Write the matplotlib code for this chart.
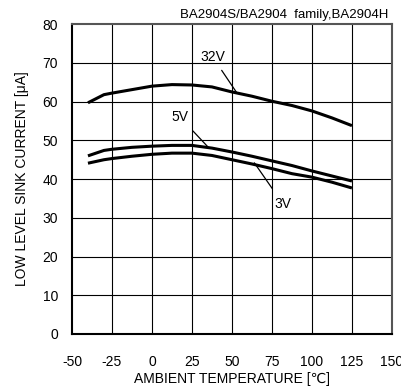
import matplotlib
matplotlib.use('Agg')
import matplotlib.pyplot as plt
import numpy as np

plt.rcParams['font.family'] = ['Liberation Sans', 'DejaVu Sans']
plt.rcParams['axes.unicode_minus'] = False

# temperatures [°C]
temp = [-40, -30, -25, -12.5, 0, 12.5, 25, 37.5, 50, 62.5, 75, 87.5, 100, 112.5, 125]
# low level sink current [uA]
i_32v = [59.7, 61.8, 62.2, 63.1, 64.0, 64.4, 64.3, 63.8, 62.5, 61.4, 60.1, 59.0, 57.6, 55.8, 53.8]
i_5v = [46.0, 47.4, 47.7, 48.2, 48.5, 48.7, 48.7, 48.0, 47.0, 45.9, 44.7, 43.5, 42.1, 40.8, 39.5]
i_3v = [44.1, 45.0, 45.3, 45.9, 46.4, 46.7, 46.7, 46.1, 45.0, 43.9, 42.7, 41.4, 40.5, 39.2, 37.7]

xticks = [-50, -25, 0, 25, 50, 75, 100, 125, 150]
yticks = [0, 10, 20, 30, 40, 50, 60, 70, 80]

fig = plt.figure(figsize=(4.02, 3.90), dpi=100)
ax = fig.add_axes([0.179, 0.1436, 0.796, 0.7944])

for t in xticks[1:-1]:
    ax.axvline(t, color='black', lw=0.8, zorder=1)
for v in yticks[1:-1]:
    ax.axhline(v, color='black', lw=0.8, zorder=1)

for s in (i_32v, i_5v, i_3v):
    ax.plot(temp, s, color='black', lw=2.2, zorder=3, solid_capstyle='butt')

ax.set_xlim(-50, 150)
ax.set_ylim(0, 80)
ax.set_xticks(xticks)
ax.set_yticks(yticks)
ax.tick_params(length=0, labelsize=10)
ax.tick_params(axis='x', pad=15)
ax.tick_params(axis='y', pad=10)
for sp in ax.spines.values():
    sp.set_linewidth(1.5)
    sp.set_color('#555555')
ax.spines['left'].set_color('black')
ax.spines['bottom'].set_color('black')

ax.set_xlabel('AMBIENT TEMPERATURE [\u2103]', fontsize=10, labelpad=2)
ax.set_ylabel('LOW LEVEL SINK CURRENT [\u03bcA]', fontsize=10, labelpad=10)

# curve labels with leader lines
ax.annotate('32V', xy=(53, 62.3), xytext=(38, 71.5), fontsize=10, ha='center', va='center',
            arrowprops=dict(arrowstyle='-', color='black', lw=0.9, shrinkA=3, shrinkB=0))
ax.annotate('5V', xy=(35, 48.3), xytext=(17.5, 56), fontsize=10, ha='center', va='center',
            arrowprops=dict(arrowstyle='-', color='black', lw=0.9, shrinkA=4, shrinkB=0))
ax.annotate('3V', xy=(64, 44.2), xytext=(82, 33.5), fontsize=10, ha='center', va='center',
            arrowprops=dict(arrowstyle='-', color='black', lw=0.9, shrinkA=5, shrinkB=0))

fig.text(0.967, 0.962, 'BA2904S/BA2904  family,BA2904H', fontsize=9.5, ha='right', va='center')

fig.savefig('out.png', dpi=100)
